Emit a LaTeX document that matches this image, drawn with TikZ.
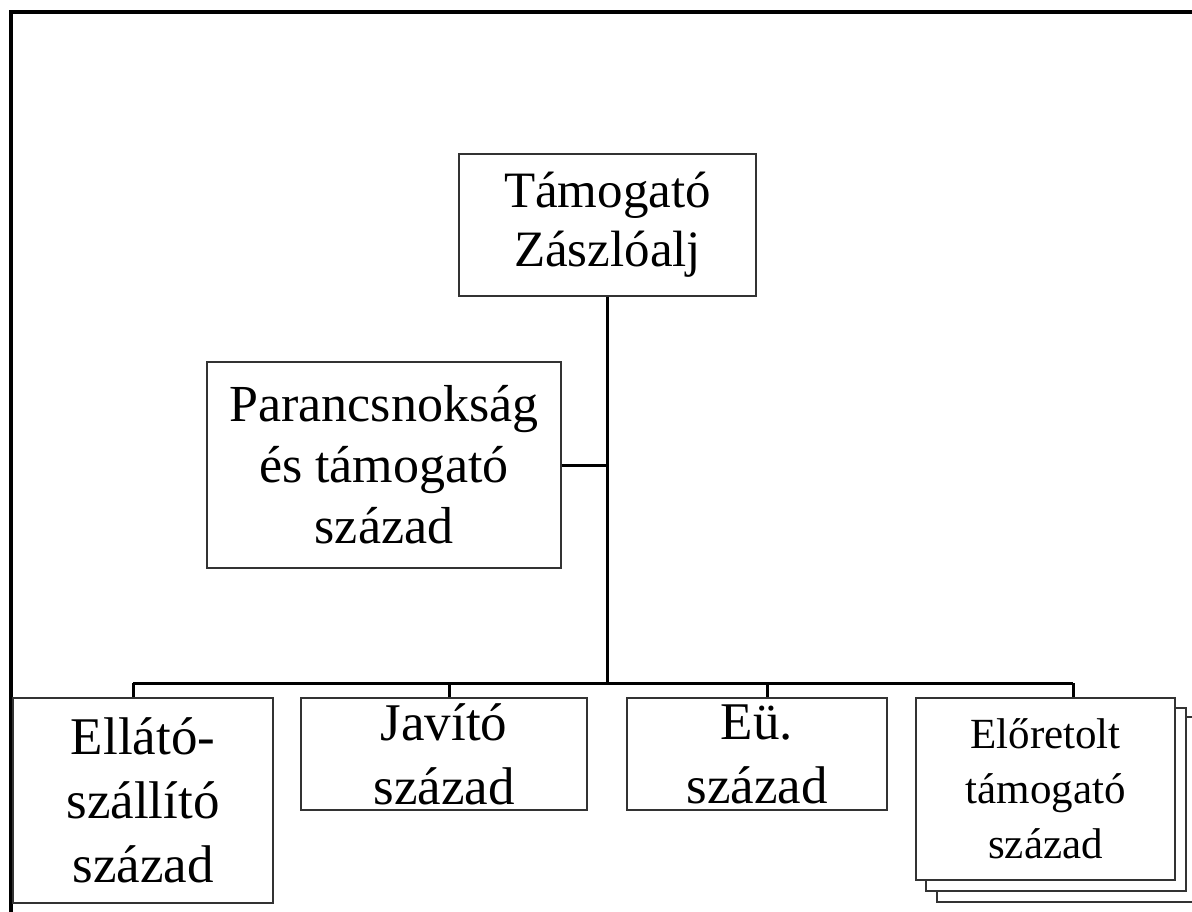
\documentclass[tikz,border=0pt]{standalone}
\usepackage{fontspec}
\setmainfont{Liberation Serif}
\begin{document}
\begin{tikzpicture}[x=1pt,y=-1pt,
  box/.style={draw=black!80,line width=1.3pt,fill=white,inner sep=0pt,align=center,text=black},
  conn/.style={draw=black,line width=3pt},
  frameline/.style={draw=black,line width=3.5pt},
  bigtext/.style={font=\fontsize{51}{59}\selectfont},
  midtext/.style={font=\fontsize{52}{61}\selectfont},
  bottext/.style={font=\fontsize{53}{64}\selectfont},
  smalltext/.style={font=\fontsize{43}{55}\selectfont}]
\useasboundingbox (0,0) rectangle (1192,911);
\clip (0,0) rectangle (1192,911);
\fill[white] (0,0) rectangle (1192,911);
% frame
\draw[frameline] (11,913) -- (11,12) -- (1195,12);
% nodes
\node[box,bigtext,minimum width=297pt,minimum height=142pt] (top) at (607.5,225) {Támogató\\Zászlóalj};
\node[box,midtext,minimum width=354pt,minimum height=206pt] (cmd) at (384,465) {Parancsnokság\\és támogató\\század};
\node[box,bottext,minimum width=260pt,minimum height=205pt] (b1) at (143,800.5) {Ellátó-\\szállító\\század};
\node[box,bottext,minimum width=286pt,minimum height=112pt] (b2) at (444,754) {Javító\\század};
\node[box,bottext,minimum width=260pt,minimum height=112pt] (b3) at (757,754) {Eü.\\század};
\node[box,minimum width=260pt,minimum height=185pt] (b4c) at (1067,809.5) {};
\node[box,minimum width=260pt,minimum height=183pt] (b4b) at (1056,799.5) {};
\node[box,smalltext,minimum width=259pt,minimum height=182pt] (b4) at (1045.5,789) {Előretolt\\támogató\\század};
% bus coordinates
\coordinate (bus) at (608,683);
\coordinate (d1) at (133,683);
\coordinate (d2) at (449,683);
\coordinate (d3) at (767,683);
\coordinate (d4) at (1073,683);
% connectors
\draw[conn] (top.south) -- (top.south |- bus);
\draw[conn] (cmd.east) -- (cmd.east -| top.south);
\draw[conn] (d1) -- (d4);
\draw[conn] (d1) -- (d1 |- b1.north);
\draw[conn] (d2) -- (d2 |- b2.north);
\draw[conn] (d3) -- (d3 |- b3.north);
\draw[conn] (d4) -- (d4 |- b4.north);
\end{tikzpicture}
\end{document}
